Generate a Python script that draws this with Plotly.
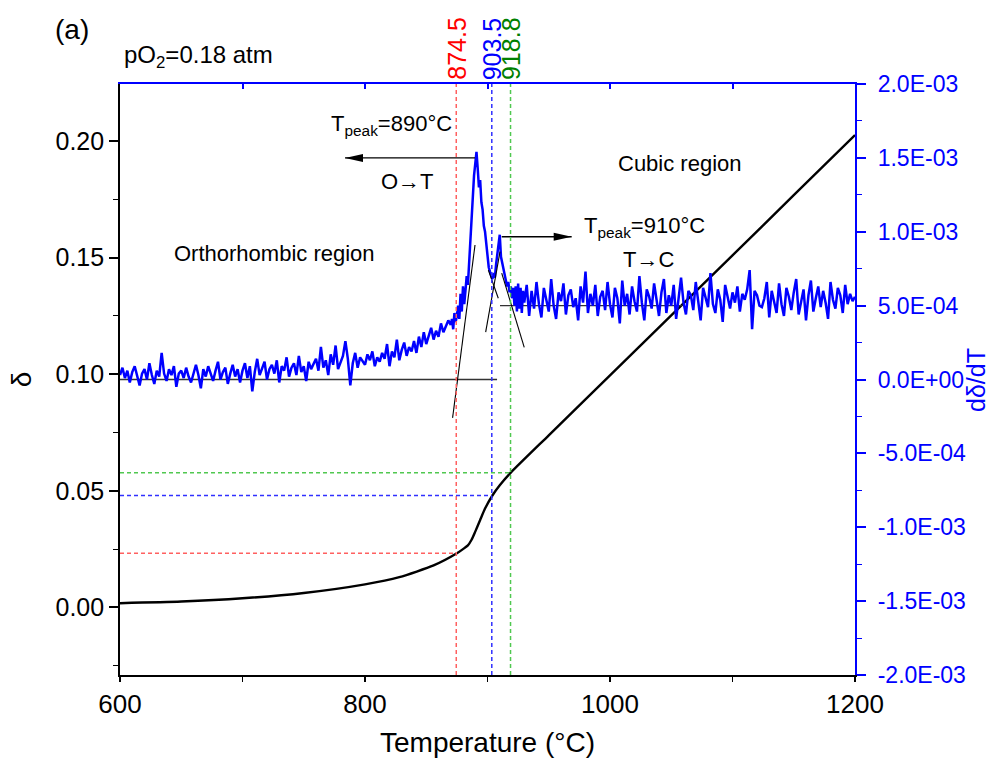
import plotly.graph_objects as go

# ---------------- data ----------------
# delta (left axis) vs temperature
T_delta = [600, 650, 700, 750, 800, 828, 856, 875, 880, 884, 887, 890, 894, 898, 904, 910, 919,
           950, 1000, 1050, 1100, 1150, 1200]
delta = [0.0018, 0.0025, 0.0039, 0.0062, 0.0099, 0.0130, 0.0180, 0.0232, 0.0250, 0.0266, 0.0290,
         0.0325, 0.0375, 0.0424, 0.0480, 0.0524, 0.0578, 0.0738, 0.0995, 0.1253, 0.1510, 0.1768, 0.2026]

# d(delta)/dT (right axis), values in units of 1e-4
T_ddt = list(range(600, 870, 2)) + list(range(870, 930)) + list(range(930, 1201, 2))
ddt_e4 = [
    # 600-698
    0.3, 0.8, 0.1, 0.6, -0.2, 0.5, 0.9, 0.2, -0.4, 0.4, 0.7, 0.0, 1.1, 0.3, -0.3, 0.6, 0.2, 1.8, 0.4, -0.1,
    0.7, 0.3, 0.9, -0.5, 0.4, 0.6, 0.1, 0.8, 0.2, -0.2, 0.5, 1.0, 0.3, -0.6, 0.7, 0.2, 0.9, 0.4, -0.1, 0.6,
    1.2, 0.0, 0.5, 0.8, -0.3, 0.4, 1.0, 0.2, 0.7, -0.2,
    # 700-758
    0.6, 1.1, 0.1, 0.9, -0.8, 0.5, 1.4, 0.3, 0.8, 1.2, 0.0, 0.7, 1.0, 0.4, 1.3, -0.2, 0.9, 0.6, 1.5, 0.2,
    0.8, 1.1, 0.3, 1.6, 0.5, 0.9, -0.1, 1.2, 0.7, 1.0,
    # 760-798
    1.4, 0.6, 2.2, 0.8, 1.3, 0.3, 1.7, 1.0, 2.3, 0.7, 1.2, 1.6, 2.6, 1.4, -0.4, 1.1, 1.8, 0.8, 1.5, 1.2,
    # 800-838
    1.0, 1.7, 1.3, 1.9, 0.9, 1.5, 1.2, 1.8, 1.4, 2.4, 0.9, 1.9, 1.5, 2.7, 1.3, 2.0, 2.5, 1.6, 2.2, 1.9,
    # 840-868
    2.6, 1.8, 2.9, 2.2, 3.2, 2.4, 2.9, 3.5, 2.7, 3.3, 2.9, 3.8, 3.2, 3.6, 4.0,
    # 870-929 (1 degree steps)
    3.7, 4.1, 3.4, 4.5, 3.9, 4.3, 5.0, 4.1, 5.8, 4.6, 6.3, 5.1, 6.0, 7.0, 6.4, 8.0, 9.4, 11.0, 12.6, 13.8,
    14.6, 15.4, 14.3, 13.0, 13.5, 12.0, 11.5, 10.4, 10.0, 9.0, 8.4, 7.6, 7.3, 7.0, 6.8, 7.2, 6.9, 7.8, 8.6, 9.3,
    9.8, 8.3, 7.9, 7.4, 7.1, 6.8, 6.3, 6.6, 5.9, 6.3, 5.5, 6.2, 5.0, 6.3, 4.6, 6.5, 4.8, 6.2, 4.5, 6.0,
    # 930-998
    5.2, 6.4, 4.3, 6.0, 4.8, 6.6, 5.1, 4.2, 6.2, 5.4, 4.6, 6.8, 5.0, 4.1, 5.9, 5.3, 6.5, 4.4, 5.7, 6.1,
    4.9, 5.5, 4.0, 6.3, 5.2, 7.3, 4.5, 5.8, 5.0, 6.4, 4.3, 5.6, 6.0, 4.7, 6.6,
    # 1000-1098
    5.1, 4.2, 6.2, 5.5, 3.8, 6.7, 5.0, 5.8, 4.4, 6.3, 5.3, 4.6, 7.0, 5.2, 4.0, 6.1, 5.6, 4.8, 6.5, 5.4,
    4.3, 5.9, 6.8, 4.5, 5.7, 5.0, 6.4, 4.1, 5.5, 6.9, 5.2, 4.4, 6.0, 5.7, 4.7, 6.6, 5.3, 4.0, 6.2, 5.5,
    4.9, 7.2, 5.1, 4.5, 6.1, 5.4, 3.9, 6.4, 5.6, 4.8,
    # 1100-1200
    5.9, 5.2, 6.3, 4.6, 5.8, 5.4, 6.1, 7.4, 3.4, 6.0, 5.7, 5.0, 4.9, 5.5, 6.6, 4.2, 6.0, 5.3, 4.5, 6.5,
    5.1, 4.3, 6.2, 5.6, 4.7, 5.9, 6.8, 4.4, 5.4, 6.1, 4.0, 5.7, 6.7, 4.6, 5.5, 6.3, 4.9, 6.0, 5.2, 4.1,
    6.6, 5.4, 4.8, 6.2, 5.7, 4.5, 6.4, 5.1, 5.8, 5.3, 5.6,
]
ddt = [v * 1e-4 for v in ddt_e4]

# characteristic temperatures and the delta values they mark
T_marks = [874.5, 903.5, 918.8]
delta_marks = [0.0232, 0.0480, 0.0578]
mark_labels = ["874.5", "903.5", "918.8"]
mark_text_colors = ["#FF0000", "#0000FF", "#008000"]
mark_line_colors = ["#FF6060", "#3030FF", "#50C850"]

# tangent / baseline construction lines on the derivative curve (T, dδ/dT)
tangent_lines = [
    ([871.5, 889.8], [-0.26e-3, 0.91e-3]),
    ([898.5, 910.2], [0.32e-3, 0.865e-3]),
    ([900.7, 908.8], [0.74e-3, 0.55e-3]),
    ([911.6, 930.0], [0.72e-3, 0.218e-3]),
]
baselines = [
    ([600, 907.8], [0.0, 0.0]),
    ([910.2, 1058.8], [0.5e-3, 0.5e-3]),
]

# arrows: (tail T, head T, level dδ/dT)
arrows = [
    (889.8, 783.7, 1.5e-3),
    (911.6, 968.7, 0.966e-3),
]

right_tickvals = [-2e-3, -1.5e-3, -1e-3, -5e-4, 0, 5e-4, 1e-3, 1.5e-3, 2e-3]
right_ticktext = ["-2.0E-03", "-1.5E-03", "-1.0E-03", "-5.0E-04", "0.0E+00",
                  "5.0E-04", "1.0E-03", "1.5E-03", "2.0E-03"]

FONT = "Liberation Sans, Arial, sans-serif"
BLUE = "#0000FF"

# plot-area geometry (pixels) used to place the free texts outside the axes
W, H = 989, 763
L, R, TOP, B = 120, 134, 84, 88
PW, PH = W - L - R, H - TOP - B


def paper_xy(px, py):
    return (px - L) / PW, (H - B - py) / PH


fig = go.Figure()

for (xs, ys) in baselines:
    fig.add_trace(go.Scatter(x=xs, y=ys, yaxis="y2", mode="lines",
                             line=dict(color="#333333", width=1.3), showlegend=False, hoverinfo="skip"))

fig.add_trace(go.Scatter(x=T_delta, y=delta, mode="lines",
                         line=dict(color="black", width=2.4, shape="spline", smoothing=0.6),
                         showlegend=False))

fig.add_trace(go.Scatter(x=T_ddt, y=ddt, yaxis="y2", mode="lines",
                         line=dict(color=BLUE, width=2.5), showlegend=False))

for (xs, ys) in tangent_lines:
    fig.add_trace(go.Scatter(x=xs, y=ys, yaxis="y2", mode="lines",
                             line=dict(color="black", width=1.1), showlegend=False, hoverinfo="skip"))

for (t0, t1, lev) in arrows:
    fig.add_trace(go.Scatter(x=[t0, t1], y=[lev, lev], yaxis="y2", mode="lines",
                             line=dict(color="black", width=1.4), showlegend=False, hoverinfo="skip"))
    sign = 1 if t1 < t0 else -1
    fig.add_shape(type="path", xref="x", yref="y2", xsizemode="pixel", ysizemode="pixel",
                  xanchor=t1, yanchor=lev,
                  path=f"M0,0 L{sign*18},4 L{sign*18},-4 Z",
                  fillcolor="black", line=dict(width=0), layer="above")

fig.add_trace(go.Scatter(x=[600, 1200], y=[None, None], xaxis="x2", showlegend=False, hoverinfo="skip"))

for T, d, c in zip(T_marks, delta_marks, mark_line_colors):
    fig.add_shape(type="line", xref="x", yref="y domain", x0=T, x1=T, y0=0, y1=1,
                  line=dict(color=c, width=1.5, dash="4px,3px"), layer="above")
    fig.add_shape(type="line", xref="x", yref="y", x0=600, x1=T, y0=d, y1=d,
                  line=dict(color=c, width=1.5, dash="4px,3px"), layer="above")

annotations = []
for T, lab, c in zip(T_marks, mark_labels, mark_text_colors):
    annotations.append(dict(x=T, xref="x", y=1, yref="paper", text=lab, showarrow=False,
                            textangle=-90, yanchor="bottom", xanchor="center", yshift=2,
                            font=dict(family=FONT, size=25, color=c)))

texts = [
    ("T<sub>peak</sub>=890°C", 821.8, 1.722e-3),
    ("O\u2192T", 834.7, 1.34e-3),
    ("Cubic region", 1057.0, 1.465e-3),
    ("T<sub>peak</sub>=910°C", 1028.2, 1.032e-3),
    ("T\u2192C", 1031.8, 0.81e-3),
    ("Orthorhombic region", 726.5, 0.85e-3),
]
for t, x, y in texts:
    annotations.append(dict(x=x, y=y, xref="x", yref="y2", text=t, showarrow=False,
                            xanchor="center", yanchor="middle",
                            font=dict(family=FONT, size=22, color="black")))

ax_, ay_ = paper_xy(72, 30)
annotations.append(dict(x=ax_, y=ay_, xref="paper", yref="paper", text="(a)",
                        xanchor="center", yanchor="middle",
                        showarrow=False, font=dict(family=FONT, size=28, color="black")))
px_, py_ = paper_xy(122, 56)
annotations.append(dict(x=px_, y=py_, xref="paper", yref="paper",
                        text="pO<sub>2</sub>=0.18 atm", xanchor="left", yanchor="middle", showarrow=False,
                        font=dict(family=FONT, size=24, color="black")))
rx_, ry_ = paper_xy(976, 380)
annotations.append(dict(x=rx_, y=ry_, xref="paper", yref="paper", text="dδ/dT",
                        textangle=-90, xanchor="center", yanchor="middle", showarrow=False,
                        font=dict(family=FONT, size=25, color=BLUE)))

fig.update_layout(
    width=W, height=H,
    margin=dict(l=L, r=R, t=TOP, b=B, autoexpand=False),
    paper_bgcolor="white", plot_bgcolor="white",
    font=dict(family=FONT, color="black"),
    showlegend=False,
    annotations=annotations,
    xaxis=dict(range=[600, 1200], showgrid=False, zeroline=False, automargin=False,
               showline=True, linecolor="black", linewidth=1.6,
               ticks="outside", ticklen=5, tickwidth=1.6, tickcolor="black",
               tickmode="linear", tick0=600, dtick=200,
               minor=dict(ticks="outside", ticklen=5, tickwidth=1.4, dtick=100, tickcolor="black"),
               tickfont=dict(family=FONT, size=26),
               title=dict(text="Temperature (°C)", font=dict(family=FONT, size=28), standoff=14)),
    xaxis2=dict(range=[600, 1200], overlaying="x", side="top", showgrid=False, zeroline=False,
                automargin=False, showline=True, linecolor=BLUE, linewidth=2.2,
                ticks="inside", ticklen=5, tickwidth=1.6, tickcolor=BLUE,
                tickmode="linear", tick0=600, dtick=100, showticklabels=False),
    yaxis=dict(range=[-0.029, 0.2245], showgrid=False, zeroline=False, automargin=False,
               showline=True, linecolor="black", linewidth=1.6,
               ticks="outside", ticklen=9, tickwidth=1.6, tickcolor="black",
               tickmode="linear", tick0=0, dtick=0.05, tickformat=".2f",
               minor=dict(ticks="outside", ticklen=5, tickwidth=1.4, dtick=0.025, tick0=0, tickcolor="black"),
               tickfont=dict(family=FONT, size=25),
               title=dict(text="δ", font=dict(family=FONT, size=28), standoff=16)),
    yaxis2=dict(range=[-2e-3, 2e-3], overlaying="y", side="right", showgrid=False, zeroline=False,
                automargin=False, showline=True, linecolor=BLUE, linewidth=2.2,
                ticks="outside", ticklen=9, tickwidth=1.6, tickcolor=BLUE,
                ticklabelstandoff=7,
                tickmode="array", tickvals=right_tickvals, ticktext=right_ticktext,
                minor=dict(ticks="outside", ticklen=5, tickwidth=1.4, tickmode="linear",
                           tick0=0, dtick=2.5e-4, tickcolor=BLUE),
                tickfont=dict(family=FONT, size=23, color=BLUE)),
)

fig.write_html("out.html")
